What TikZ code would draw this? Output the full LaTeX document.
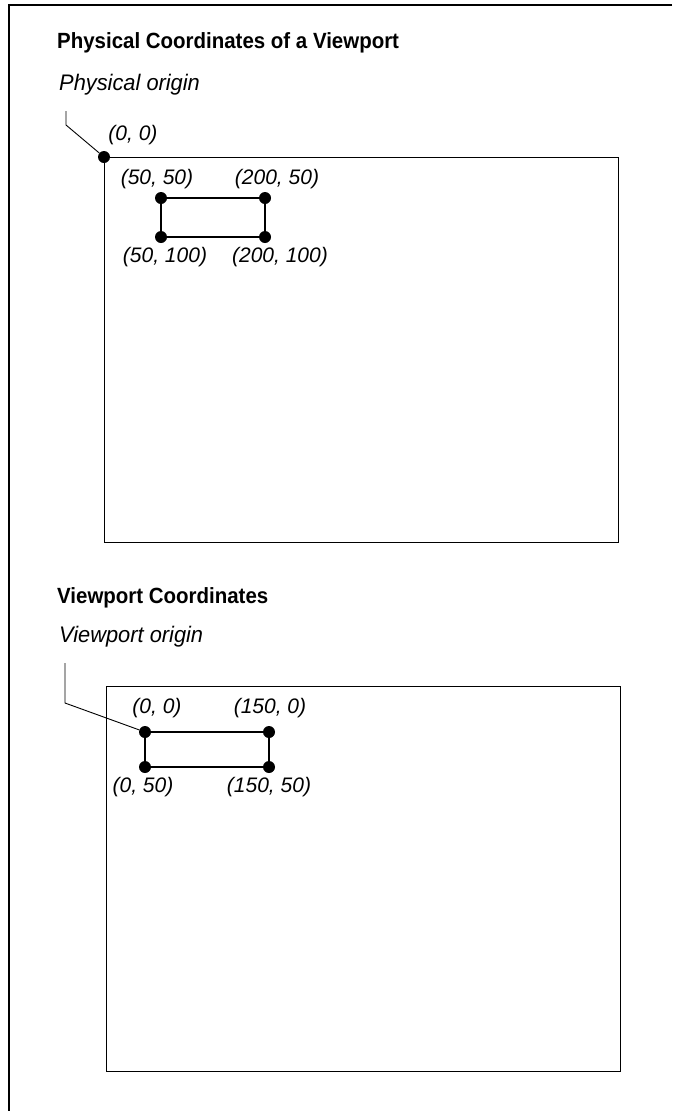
\documentclass[tikz,border=0pt]{standalone}
\usepackage{fontspec}
\setmainfont{Liberation Sans}
\newfontfamily\headfont{Liberation Sans}[FakeStretch=0.93]
\newfontfamily\notefont{Liberation Sans}[FakeStretch=0.97]

\begin{document}
\begin{tikzpicture}[x=1pt,y=-1pt,
  frame/.style={line width=1.6pt},
  port/.style={rectangle,draw,line width=1.1pt,inner sep=0pt,anchor=north west,minimum width=514pt,minimum height=385pt},
  dot/.style={circle,fill,inner sep=0pt,minimum size=12pt},
  rectline/.style={line width=1.4pt},
  lead/.style={line width=0.9pt},
  title/.style={anchor=base west,inner sep=0pt,font=\headfont\bfseries\fontsize{22}{26}\selectfont},
  note/.style={anchor=base west,inner sep=0pt,font=\notefont\itshape\fontsize{22.5}{27}\selectfont},
  coord/.style={inner sep=0pt,font=\itshape\fontsize{21}{25}\selectfont}
]
  \useasboundingbox (0,0) rectangle (675,1111);
  \draw[frame] (672,5) -- (9,5) -- (9,1111);

  % physical coordinates
  \node[title] (t1) at (57,48) {Physical Coordinates of a Viewport};
  \node[note] (n1) at (59,90) {Physical origin};
  \node[port] (phys) at (104,157) {};
  \node[dot] (o1) at (phys.north west) {};
  \node[coord] (o1l) at (133,135) {(0, 0)};
  \coordinate (l1a) at (66,111);
  \coordinate (l1b) at (66,125);
  \draw[lead] (l1a) -- (l1b) -- (o1);
  \node[dot] (a1) at (161,198) {};
  \node[dot] (b1) at (265,198) {};
  \node[dot] (c1) at (161,237) {};
  \node[dot] (d1) at (265,237) {};
  \draw[rectline] (a1) -- (b1) -- (d1) -- (c1) -- (a1);
  \node[coord] (a1l) at (157,179) {(50, 50)};
  \node[coord] (b1l) at (277,179) {(200, 50)};
  \node[coord] (c1l) at (165,257) {(50, 100)};
  \node[coord] (d1l) at (280,257) {(200, 100)};

  % viewport coordinates
  \node[title] (t2) at (57,603) {Viewport Coordinates};
  \node[note] (n2) at (59,642) {Viewport origin};
  \node[port] (view) at (106,686) {};
  \coordinate (l2a) at (65,663);
  \coordinate (l2b) at (65,703);
  \node[dot] (a2) at (145,732) {};
  \node[dot] (b2) at (269,732) {};
  \node[dot] (c2) at (145,767) {};
  \node[dot] (d2) at (269,767) {};
  \draw[lead] (l2a) -- (l2b) -- (a2);
  \draw[rectline] (a2) -- (b2) -- (d2) -- (c2) -- (a2);
  \node[coord] (a2l) at (157,708) {(0, 0)};
  \node[coord] (b2l) at (270,708) {(150, 0)};
  \node[coord] (c2l) at (143,787) {(0, 50)};
  \node[coord] (d2l) at (269,787) {(150, 50)};
\end{tikzpicture}
\end{document}
